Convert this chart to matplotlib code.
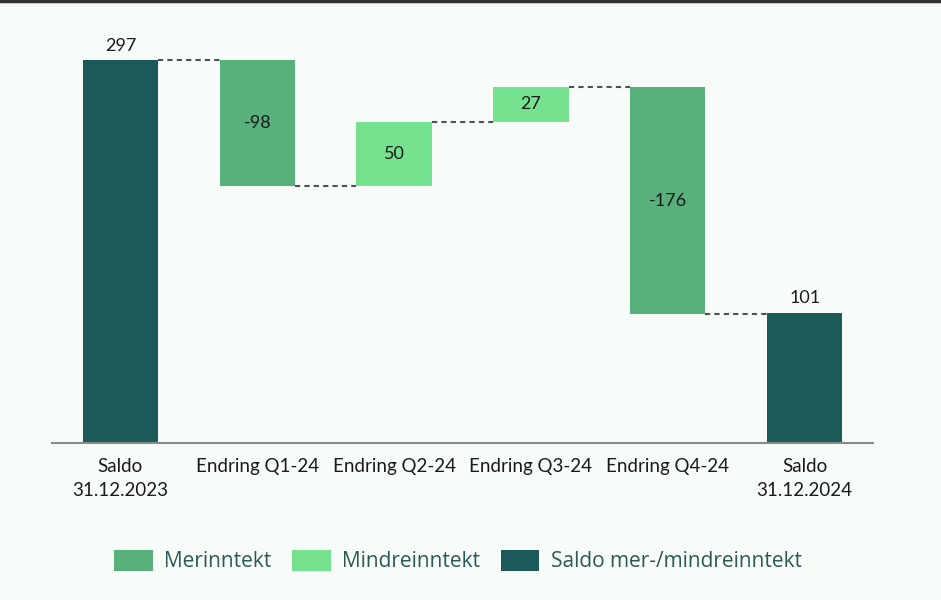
import matplotlib
matplotlib.use("Agg")
import matplotlib.pyplot as plt
from matplotlib.patches import Patch
from matplotlib.lines import Line2D

categories = ["Saldo\n31.12.2023", "Endring Q1-24", "Endring Q2-24",
              "Endring Q3-24", "Endring Q4-24", "Saldo\n31.12.2024"]
values = [297, -98, 50, 27, -176, 101]
kinds = ["saldo", "mer", "mindre", "mindre", "mer", "saldo"]
legend_labels = ["Merinntekt", "Mindreinntekt", "Saldo mer-/mindreinntekt"]

colors = {"mer": "#58b07a", "mindre": "#75e28f", "saldo": "#1c5a5a"}
bg = "#f8fcf9"

fig = plt.figure(figsize=(9.41, 6.00), dpi=100, facecolor=bg)
W, H = 941, 600
ax_left, ax_right = 52, 873
ax_bottom_px, ax_top_px = 443, 30
ax = fig.add_axes([ax_left / W, 1 - ax_bottom_px / H,
                   (ax_right - ax_left) / W, (ax_bottom_px - ax_top_px) / H])
ax.set_facecolor(bg)

ymax = 297 * (ax_bottom_px - ax_top_px) / (443 - 60)
ax.set_xlim(-0.5, 5.5)
ax.set_ylim(0, ymax)

txt_family = ["Lato", "DejaVu Sans"]
width = 0.55
level = 0
for i, (v, k) in enumerate(zip(values, kinds)):
    if k == "saldo":
        b, t = 0, v
        level = v
    else:
        b, t = (level, level + v) if v > 0 else (level + v, level)
        level = level + v
    ax.bar(i, t - b, bottom=b, width=width, color=colors[k], zorder=2)
    if k == "saldo":
        ax.text(i, t + 5, str(v), ha="center", va="bottom", fontsize=13,
                color="#1a1a1a", family=txt_family)
    else:
        ax.text(i, (b + t) / 2, str(v), ha="center", va="center", fontsize=13,
                color="#1a1a1a", family=txt_family)

# connectors
run = 0
levels = []
for v, k in zip(values, kinds):
    run = v if k == "saldo" else run + v
    levels.append(run)
for i in range(len(values) - 1):
    y = levels[i]
    ax.plot([i + width / 2, i + 1 - width / 2], [y, y], linestyle=(0, (2.5, 2)),
            color="#505050", linewidth=1.5, zorder=1)

for s in ["top", "right", "left"]:
    ax.spines[s].set_visible(False)
ax.spines["bottom"].set_color("#8a8a8a")
ax.spines["bottom"].set_linewidth(1.5)
ax.set_yticks([])
ax.set_xticks(range(len(categories)))
ax.set_xticklabels(categories, fontsize=13.5, color="#1a1a1a",
                   family=txt_family, linespacing=1.5)
ax.tick_params(axis="x", length=0, pad=11)

handles = [Patch(facecolor=colors["mer"]), Patch(facecolor=colors["mindre"]),
           Patch(facecolor=colors["saldo"])]
leg = fig.legend(handles, legend_labels, ncol=3, loc="center",
                 bbox_to_anchor=(458 / W, 1 - 561 / H), frameon=False,
                 prop={"family": ["Open Sans", "DejaVu Sans"], "size": 15},
                 labelcolor="#2a5a55", handlelength=1.85, handleheight=1.2,
                 handletextpad=0.55, columnspacing=1.0)

fig.add_artist(Line2D([0, 1], [1 - 1 / H, 1 - 1 / H], transform=fig.transFigure,
                      color="#333333", linewidth=2.5))

fig.savefig("out.png", dpi=100, facecolor=bg)
